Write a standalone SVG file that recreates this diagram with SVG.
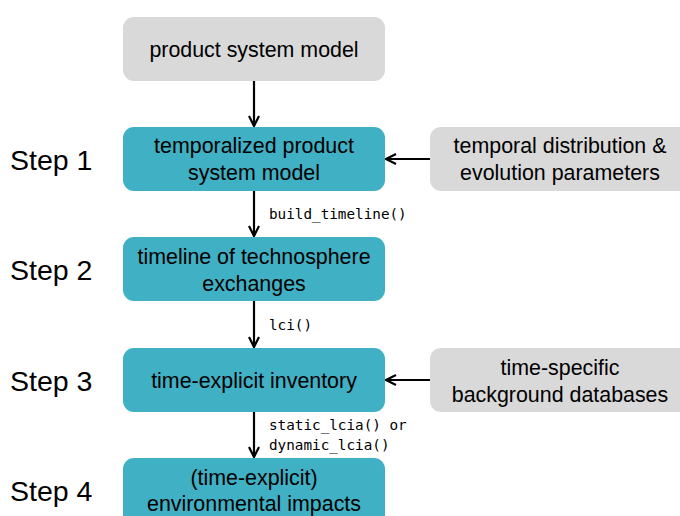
<svg xmlns="http://www.w3.org/2000/svg" width="680" height="516" viewBox="0 0 680 516">
<style>
.gray{fill:#d9d9d9}
.teal{fill:#40b0c4}
.t{font-family:"Liberation Sans",Arial,sans-serif;font-size:21.4px;fill:#000;text-anchor:middle}
.s{font-family:"Liberation Sans",Arial,sans-serif;font-size:28.5px;fill:#000}
.m{font-family:"DejaVu Sans Mono",monospace;font-size:14.3px;fill:#000}
.c{stroke:#000;stroke-width:2.2;fill:none}
</style>
<defs>
<marker id="ah" viewBox="0 0 12 12" refX="11" refY="6" markerWidth="12" markerHeight="12" markerUnits="userSpaceOnUse" orient="auto">
<path d="M1,1 L11,6 L1,11" fill="none" stroke="#000" stroke-width="2.2"/>
</marker>
</defs>
<g id="n0"><rect class="gray" x="123" y="17" width="262" height="64" rx="11"/><text class="t" x="254" y="57">product system model</text></g>
<g id="n1"><rect class="teal" x="123" y="127" width="262" height="64" rx="11"/><text class="t" x="254" y="153">temporalized product</text><text class="t" x="254" y="180">system model</text></g>
<g id="n2"><rect class="teal" x="123" y="237" width="262" height="64" rx="11"/><text class="t" x="254" y="264">timeline of technosphere</text><text class="t" x="254" y="291">exchanges</text></g>
<g id="n3"><rect class="teal" x="123" y="348" width="262" height="64" rx="11"/><text class="t" x="254" y="388">time-explicit inventory</text></g>
<g id="n4"><rect class="teal" x="123" y="458" width="262" height="70" rx="11"/><text class="t" x="254" y="485">(time-explicit)</text><text class="t" x="254" y="511">environmental impacts</text></g>
<g id="p1"><rect class="gray" x="430" y="127" width="270" height="64" rx="11"/><text class="t" x="560" y="153">temporal distribution &amp;</text><text class="t" x="560" y="180">evolution parameters</text></g>
<g id="p2"><rect class="gray" x="430" y="348" width="270" height="64" rx="11"/><text class="t" x="560" y="375">time-specific</text><text class="t" x="560" y="402">background databases</text></g>
<g id="steps">
<text class="s" x="10" y="170">Step 1</text>
<text class="s" x="10" y="280">Step 2</text>
<text class="s" x="10" y="391">Step 3</text>
<text class="s" x="10" y="501">Step 4</text>
</g>
<g id="connectors">
<line class="c" x1="254" y1="81" x2="254" y2="126" marker-end="url(#ah)"/>
<line class="c" x1="254" y1="191" x2="254" y2="236" marker-end="url(#ah)"/>
<line class="c" x1="254" y1="301" x2="254" y2="347" marker-end="url(#ah)"/>
<line class="c" x1="254" y1="412" x2="254" y2="457" marker-end="url(#ah)"/>
<line class="c" x1="430" y1="159" x2="386" y2="159" marker-end="url(#ah)"/>
<line class="c" x1="430" y1="380" x2="386" y2="380" marker-end="url(#ah)"/>
<text class="m" x="269" y="219">build_timeline()</text>
<text class="m" x="269" y="330">lci()</text>
<text class="m" x="269" y="430">static_lcia() or</text>
<text class="m" x="269" y="450">dynamic_lcia()</text>
</g>
</svg>
